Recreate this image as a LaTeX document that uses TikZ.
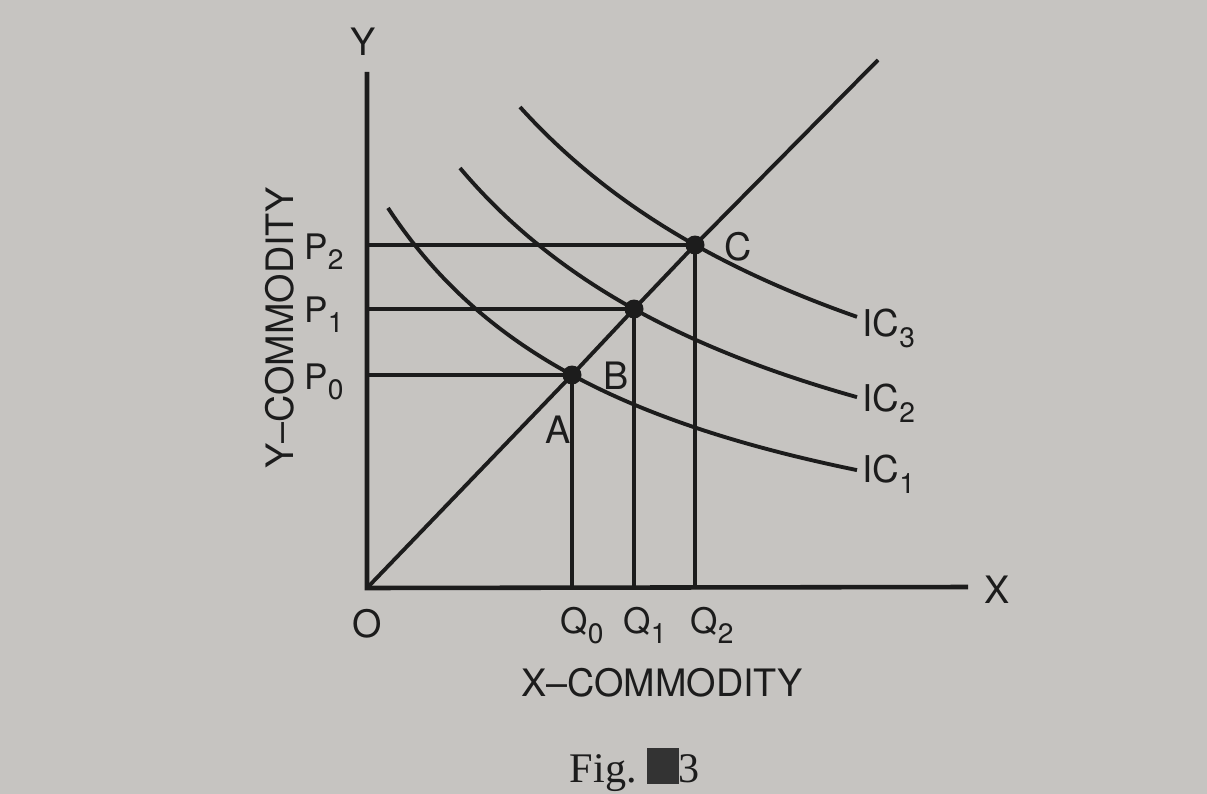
\documentclass[tikz,border=0pt]{standalone}
\usepackage{fontspec}
\setmainfont{TeX Gyre Heros}
\newfontfamily\figserif{Liberation Serif}
\definecolor{paper}{HTML}{C6C4C1}
\definecolor{ink}{HTML}{1C1C1C}
\newcommand\lowidx[1]{\raisebox{-0.3em}{\fontsize{16}{16}\selectfont #1}}
\tikzset{
  ln/.style={draw=ink, line width=2.2pt},
  axisln/.style={draw=ink, line width=2.6pt},
  curve/.style={draw=ink, line width=2.2pt, samples=120},
  lab/.style={text=ink, inner sep=0pt, font=\fontsize{20}{22}\selectfont},
  biglab/.style={text=ink, inner sep=0pt, font=\fontsize{21.5}{24}\selectfont},
  iclab/.style={text=ink, inner sep=0pt, anchor=base west, font=\fontsize{21}{23}\selectfont},
  dot/.style={fill=ink, draw=none}
}
\begin{document}
\begin{tikzpicture}[x=0.02cm, y=-0.02cm]
\fill[paper] (0,0) rectangle (1207,794);
\useasboundingbox (0,0) rectangle (1207,794);

% key points
\coordinate (O) at (367,588);
\coordinate (Ytop) at (367,72);
\coordinate (Xend) at (968,587);
\coordinate (A) at (572,375);
\coordinate (B) at (634,309);
\coordinate (C) at (695,245);
\coordinate (Rend) at (878,60);

% axes
\draw[axisln] (Ytop) -- (O) -- (Xend);

% income-consumption ray
\draw[ln] (O) -- (A) -- (B) -- (C) -- (Rend);

% price lines and quantity lines
\draw[ln] (O |- A) -- (A);
\draw[ln] (O |- B) -- (B);
\draw[ln] (O |- C) -- (C);
\draw[ln] (A) -- (A |- O);
\draw[ln] (B) -- (B |- O);
\draw[ln] (C) -- (C |- O);

% indifference curves (hyperbolas)
\draw[curve] plot[domain=388:857] (\x, {622.7 - 1132.2/((\x-115)/100)});
\draw[curve] plot[domain=460:857] (\x, {615.3 - 1690.65/((\x-82)/100)});
\draw[curve] plot[domain=520:857] (\x, {587.7 - 2090.91/((\x-85)/100)});

% dots
\fill[dot] (A) circle[radius=0.19cm];
\fill[dot] (B) circle[radius=0.19cm];
\fill[dot] (C) circle[radius=0.19cm];

% labels
\node[biglab] (ylab) at (363,42) {Y};
\node[biglab] (xlab) at (997,590) {X};
\node[biglab] (olab) at (367,624) {O};
\node[lab, anchor=base] (p2) at (324,259) {P\lowidx{2}};
\node[lab, anchor=base] (p1) at (324,322) {P\lowidx{1}};
\node[lab, anchor=base] (p0) at (324,389) {P\lowidx{0}};
\node[lab, anchor=base] (q0) at (582,633) {Q\lowidx{0}};
\node[lab, anchor=base] (q1) at (645,633) {Q\lowidx{1}};
\node[lab, anchor=base] (q2) at (712,633) {Q\lowidx{2}};
\node[biglab] (alab) at (558,430) {A};
\node[biglab] (blab) at (616,376) {B};
\node[biglab] (clab) at (738,247) {C};
\node[iclab] (ic3) at (862,336) {IC\lowidx{3}};
\node[iclab] (ic2) at (862,411) {IC\lowidx{2}};
\node[iclab] (ic1) at (862,482) {IC\lowidx{1}};

\node[biglab, rotate=90] (ycom) at (280,328) {Y–COMMODITY};
\node[biglab] (xcom) at (662,683) {X–COMMODITY};

\node[text=ink, inner sep=0pt, font=\figserif\fontsize{24}{26}\selectfont] (fig) at (635,770)
  {Fig.\ \textcolor{ink!90}{\rule[-0.04em]{0.75em}{0.85em}}3};
\end{tikzpicture}
\end{document}
